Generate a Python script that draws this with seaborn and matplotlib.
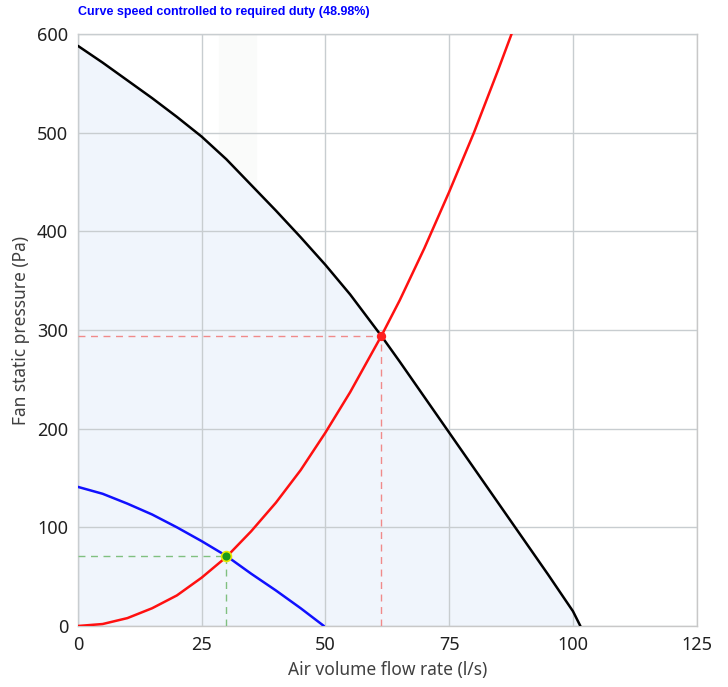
import pandas as pd
import matplotlib
matplotlib.use('Agg')
import matplotlib.pyplot as plt
import seaborn as sns

# Dati
fan_q = [0, 5, 10, 15, 20, 25, 30, 35, 40, 45, 50, 55, 61.3, 65, 70, 75, 80, 85, 90, 95, 100, 101.5]
fan_p = [588, 571, 553, 535, 516, 496, 473, 447, 421, 394, 366, 336, 294, 268, 232, 196, 160, 124, 88, 52, 15, 0]

duty_q = [0, 5, 10, 15, 20, 25, 30, 35, 40, 45, 49.7]
duty_p = [141, 134, 124, 113, 100, 86, 71, 53, 36, 18, 0]

system_q = [0, 5, 10, 15, 20, 25, 30, 35, 40, 45, 50, 55, 61.3, 65, 70, 75, 80, 85, 87.6]
system_p = [0, 2, 8, 18, 31, 49, 70, 96, 125, 158, 196, 237, 294, 330, 383, 440, 500, 565, 600]

design_point = (61.3, 294)
duty_point = (30, 71)
band = (28.5, 36)

title = 'Curve speed controlled to required duty (48.98%)'
x_ticks = [0, 25, 50, 75, 100, 125]
y_ticks = [0, 100, 200, 300, 400, 500, 600]

sns.set_style('white')
plt.rcParams['font.family'] = ['Noto Sans', 'DejaVu Sans']

fig = plt.figure(figsize=(7.28, 6.87), dpi=100)
ax = fig.add_axes([0.107, 0.0888, 0.850, 0.8617])

df_fan = pd.DataFrame({'q': fan_q, 'p': fan_p})
df_duty = pd.DataFrame({'q': duty_q, 'p': duty_p})
df_sys = pd.DataFrame({'q': system_q, 'p': system_p})

# banda verticale chiarissima e area sotto la curva
ax.axvspan(band[0], band[1], color='#fafbfa', zorder=0)
ax.fill_between(fan_q, fan_p, 0, color='#f0f5fc', zorder=1, linewidth=0)

sns.lineplot(data=df_fan, x='q', y='p', color='black', linewidth=1.8, ax=ax, zorder=4, sort=False)
sns.lineplot(data=df_duty, x='q', y='p', color='#1010ff', linewidth=1.8, ax=ax, zorder=4, sort=False)
sns.lineplot(data=df_sys, x='q', y='p', color='#ff1010', linewidth=1.8, ax=ax, zorder=4, sort=False)

# linee tratteggiate ai punti di lavoro
ax.plot([0, design_point[0]], [design_point[1], design_point[1]], color='#f08a8a', lw=1, ls=(0, (5, 4)), zorder=3)
ax.plot([design_point[0], design_point[0]], [0, design_point[1]], color='#f08a8a', lw=1, ls=(0, (5, 4)), zorder=3)
ax.plot([0, duty_point[0]], [duty_point[1], duty_point[1]], color='#80c080', lw=1, ls=(0, (5, 4)), zorder=3)
ax.plot([duty_point[0], duty_point[0]], [0, duty_point[1]], color='#80c080', lw=1, ls=(0, (5, 4)), zorder=3)

ax.scatter([design_point[0]], [design_point[1]], s=45, color='#ff2020', zorder=5, linewidths=0)
ax.scatter([duty_point[0]], [duty_point[1]], s=50, color='#1a9a1a', edgecolors='#e8e800', linewidths=1.2, zorder=5)

ax.set_xlim(0, 125)
ax.set_ylim(0, 600)
ax.set_xticks(x_ticks)
ax.set_yticks(y_ticks)
ax.grid(True, color='#c8cdd0', linewidth=1, zorder=2)
ax.set_axisbelow(False)
for s in ax.spines.values():
    s.set_color('#c8c8c8')
    s.set_linewidth(1)
ax.tick_params(axis='both', length=5, width=1, color='#b0b0b0', labelsize=13, labelcolor='#202020', pad=2)

ax.set_xlabel('Air volume flow rate (l/s)', fontsize=12.5, color='#404040', labelpad=5)
ax.set_ylabel('Fan static pressure (Pa)', fontsize=12.5, color='#404040', labelpad=5)

fig.text(0.107, 0.982, title, fontsize=9, fontweight='bold', color='#0000ff',
         family=['Liberation Sans', 'DejaVu Sans'], ha='left', va='center')

fig.savefig('out.png', dpi=100)
